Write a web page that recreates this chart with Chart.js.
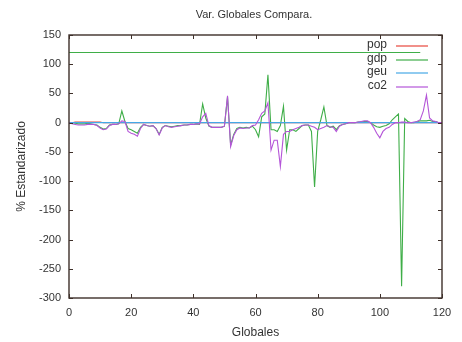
<!DOCTYPE html>
<html>
<head>
<meta charset="utf-8">
<script src="https://cdn.jsdelivr.net/npm/chart.js@4"></script>
<style>
  html, body { margin: 0; padding: 0; background: #fff; }
  canvas { display: block; }
</style>
</head>
<body>
<canvas id="chart" width="462" height="342"></canvas>
<script>
// series, one value per step on the x axis (0..120)
const pop = [0,0,1,1,1,1,1,1,1,1,1,0,0,0,0,0,0,0,0,0,
  0,0,0,0,0,0,0,0,0,0,0,0,0,0,0,0,0,0,0,0,
  0,0,0,0,0,0,0,0,0,0,0,0,0,0,0,0,0,0,0,0,
  0,0,0,0,0,0,0,0,0,0,0,0,0,0,0,0,0,0,0,0,
  0,0,0,0,0,0,0,0,0,0,0,0,0,0,0,0,0,0,0,0,
  0,0,0,0,0,0,0,0,0,0,0,0,0,0,0,0,0,0,0,0,0];

const gdp = [0,0,-1,-2,-2,-2,-1,-2,-3,-4,-8,-11,-10,-4,-3,-3,-2,20,2,-10,
  -12,-15,-18,-8,-3,-5,-6,-5,-10,-20,-8,-5,-6,-7,-6,-5,-5,-4,-4,-3,
  -3,-2,-3,32,8,-6,-8,-8,-8,-8,-6,44,-38,-20,-10,-8,-9,-8,-9,-6,
  -12,-24,10,15,82,-12,-12,-15,-5,28,-47,-12,-12,-15,-10,-5,-4,-4,-15,-110,
  -15,5,27,-5,-8,-6,-12,-5,-3,-2,0,0,0,1,1,2,2,0,-4,-7,
  -8,-6,-5,-2,5,10,15,-280,7,2,0,0,2,3,3,3,4,2,2,0,0];

const gdpTop = [120, 120];   // flat gdp trace along the top
const gdpTopX = [0, 113];

const geu = [0,0,0,0,0,0,0,0,0,0,0,0,0,0,0,0,0,0,0,0,
  0,0,0,0,0,0,0,0,0,0,0,0,0,0,0,0,0,0,0,0,
  0,0,0,0,0,0,0,0,0,0,0,0,0,0,0,0,0,0,0,0,
  0,0,0,0,0,0,0,0,0,0,0,0,0,0,0,0,0,0,0,0,
  0,0,0,0,0,0,0,0,0,0,0,0,0,0,0,0,0,0,0,0,
  0,0,0,0,0,0,0,0,0,0,0,0,0,0,0,0,0,0,0,0,0];

const co2 = [0,-2,-3,-4,-4,-4,-3,-3,-3,-5,-9,-12,-11,-5,-3,-3,-2,3,2,-15,
  -18,-20,-23,-10,-3,-5,-6,-5,-10,-21,-9,-5,-7,-8,-7,-6,-5,-4,-4,-3,
  -3,-2,-2,10,16,-5,-8,-8,-8,-8,-6,46,-41,-22,-12,-9,-10,-9,-9,-5,
  -4,5,16,20,34,-47,-30,-30,-75,-20,-15,-15,-12,-10,-8,-5,-4,-4,-6,-8,
  -12,-10,-8,-5,-7,-8,-15,-6,-3,-2,0,0,0,1,2,3,3,0,-8,-18,
  -26,-15,-10,-8,-3,0,0,1,1,0,0,1,2,5,20,47,8,3,2,0,0];

const seriesNames = ['pop', 'gdp', 'geu', 'co2'];
const xTicks = [0, 20, 40, 60, 80, 100, 120];
const yTicks = [150, 100, 50, 0, -50, -100, -150, -200, -250, -300];

const COLORS = { pop: '#e8453c', gdp: '#3fae48', geu: '#45a8e6', co2: '#b455d8' };
const FONT = '"Liberation Sans", Arial, sans-serif';
const TEXT = '#333';

const pts = arr => arr.map((v, i) => ({ x: i, y: v }));

// border box with inward ticks on all four sides, title and key
const gnuFrame = {
  id: 'gnuFrame',
  afterDatasetsDraw(chart) {
    const { ctx, chartArea: a, scales } = chart;
    ctx.save();
    ctx.strokeStyle = '#3e302a';
    ctx.lineWidth = 1.4;
    ctx.strokeRect(a.left, a.top, a.right - a.left, a.bottom - a.top);
    ctx.lineWidth = 1;
    ctx.beginPath();
    xTicks.forEach(t => {
      const px = Math.round(scales.x.getPixelForValue(t)) + 0.5;
      ctx.moveTo(px, a.bottom); ctx.lineTo(px, a.bottom - 4);
      ctx.moveTo(px, a.top); ctx.lineTo(px, a.top + 4);
    });
    yTicks.forEach(t => {
      const py = Math.round(scales.y.getPixelForValue(t)) + 0.5;
      ctx.moveTo(a.left, py); ctx.lineTo(a.left + 4, py);
      ctx.moveTo(a.right, py); ctx.lineTo(a.right - 4, py);
    });
    ctx.stroke();
    ctx.restore();
  },
  afterDraw(chart) {
    const { ctx } = chart;
    ctx.save();
    ctx.fillStyle = TEXT;
    ctx.font = '11px ' + FONT;
    ctx.textAlign = 'center';
    ctx.textBaseline = 'middle';
    ctx.fillText('Var. Globales Compara.', 254, 15);

    // key, top right inside the box
    ctx.textAlign = 'right';
    ctx.font = '12px ' + FONT;
    seriesNames.forEach((name, i) => {
      const y = Math.round(45 + i * 13.6);
      ctx.fillStyle = TEXT;
      ctx.fillText(name, 387, y);
      ctx.strokeStyle = COLORS[name];
      ctx.lineWidth = 1.2;
      ctx.beginPath();
      ctx.moveTo(396, y + 1);
      ctx.lineTo(428, y + 1);
      ctx.stroke();
    });
    ctx.restore();
  }
};

// lower order is drawn on top, so co2 ends up over the others
const line = (label, data, order) => ({
  label, data, order,
  borderColor: COLORS[label],
  borderWidth: 1.1,
  pointRadius: 0,
  tension: 0,
  fill: false
});

new Chart(document.getElementById('chart'), {
  type: 'line',
  data: {
    datasets: [
      line('pop', pts(pop), 4),
      line('gdp', pts(gdp), 3),
      line('gdp', gdpTopX.map((x, i) => ({ x, y: gdpTop[i] })), 3),
      line('geu', pts(geu), 2),
      line('co2', pts(co2), 1)
    ]
  },
  options: {
    responsive: false,
    animation: false,
    layout: { padding: { left: 6, right: 20, top: 35, bottom: 2 } },
    plugins: {
      legend: { display: false },
      title: { display: false },
      tooltip: { enabled: false }
    },
    scales: {
      x: {
        type: 'linear', min: 0, max: 120,
        afterBuildTicks: s => { s.ticks = xTicks.map(v => ({ value: v })); },
        afterFit: s => { s.height = 42; },
        ticks: { color: TEXT, font: { family: FONT, size: 11 }, padding: 0, maxRotation: 0 },
        grid: { display: false },
        border: { display: false },
        title: { display: true, text: 'Globales', color: TEXT, font: { family: FONT, size: 12 }, padding: { top: 0, bottom: 0 } }
      },
      y: {
        min: -300, max: 150,
        afterBuildTicks: s => { s.ticks = yTicks.map(v => ({ value: v })); },
        afterFit: s => { s.width = 63; },
        ticks: { color: TEXT, font: { family: FONT, size: 11 }, padding: 0 },
        grid: { display: false },
        border: { display: false },
        title: { display: true, text: '% Estandarizado', color: TEXT, font: { family: FONT, size: 12 }, padding: { top: 8, bottom: 8 } }
      }
    }
  },
  plugins: [gnuFrame]
});
</script>
</body>
</html>
